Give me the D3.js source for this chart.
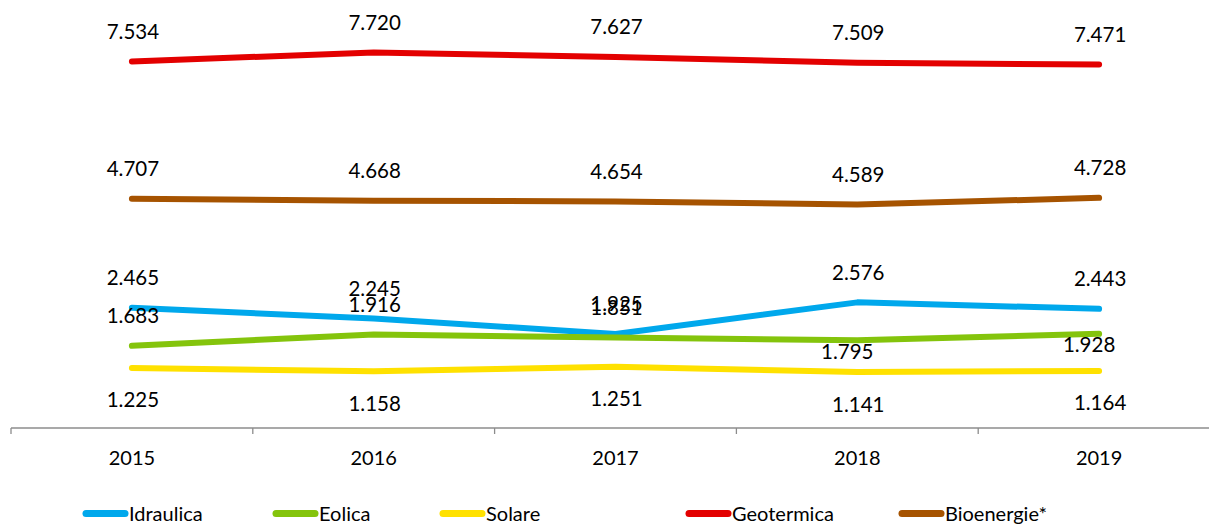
<!DOCTYPE html>
<html>
<head>
<meta charset="utf-8">
<script src="https://cdn.jsdelivr.net/npm/d3@7/dist/d3.min.js"></script>
<style>
  html, body { margin: 0; padding: 0; background: #fff; }
  svg { display: block; font-family: Lato, "Open Sans", sans-serif; }
</style>
</head>
<body>
<svg id="chart" width="1209" height="525"></svg>
<script>
// ---- data ----
const years = ["2015", "2016", "2017", "2018", "2019"];
const seriesNames = ["Idraulica", "Eolica", "Solare", "Geotermica", "Bioenergie*"];
const idraulica  = [2.465, 2.245, 1.925, 2.576, 2.443];
const eolica     = [1.683, 1.916, 1.851, 1.795, 1.928];
const solare     = [1.225, 1.158, 1.251, 1.141, 1.164];
const geotermica = [7.534, 7.720, 7.627, 7.509, 7.471];
const bioenergie = [4.707, 4.668, 4.654, 4.589, 4.728];

// ---- styles / placement (not data) ----
const colors = ["#00A8EC", "#84C40C", "#FFE100", "#E30000", "#A65300"];
// label placement per series/point: "a" above, "b" below, "n" near (below-left)
const placement = [
  ["a","a","a","a","a"],
  ["a","a","a","n","n"],
  ["b","b","b","b","b"],
  ["a","a","a","a","a"],
  ["a","a","a","a","a"]
];
const legendX = [83, 273, 440, 686, 899];

const values = [idraulica, eolica, solare, geotermica, bioenergie];
const series = seriesNames.map((name, i) => ({
  name, color: colors[i],
  points: years.map((y, j) => ({ year: y, value: values[i][j], place: placement[i][j] }))
}));

const svg = d3.select("#chart");

const x = d3.scaleBand().domain(years).range([11, 1220]).padding(0);
const y = d3.scaleLinear().domain([0, 8.8]).range([427.5, 0]);
const cx = d => x(d) + x.bandwidth() / 2;

// axis
const axisY = 428;
const axisG = svg.append("g").attr("transform", `translate(0,${axisY})`);
axisG.append("line")
  .attr("x1", 11).attr("x2", 1220).attr("y1", 0).attr("y2", 0)
  .attr("stroke", "#8c8c8c").attr("stroke-width", 1.3);
const tickPos = years.map(yr => x(yr)).concat([x(years[years.length - 1]) + x.bandwidth()]);
axisG.selectAll("line.tick").data(tickPos).join("line")
  .attr("class", "tick")
  .attr("x1", d => d).attr("x2", d => d).attr("y1", 0).attr("y2", 6)
  .attr("stroke", "#8c8c8c").attr("stroke-width", 1.3);
axisG.selectAll("text.yr").data(years).join("text")
  .attr("class", "yr")
  .attr("x", d => cx(d)).attr("y", 37)
  .attr("text-anchor", "middle")
  .attr("font-size", 20).attr("fill", "#000")
  .text(d => d);

// lines
const line = d3.line().x(d => cx(d.year)).y(d => y(d.value));
svg.append("g").selectAll("path").data(series).join("path")
  .attr("d", s => line(s.points))
  .attr("fill", "none")
  .attr("stroke", s => s.color)
  .attr("stroke-width", 6)
  .attr("stroke-linecap", "round")
  .attr("stroke-linejoin", "round");

// labels
const fmt = v => v.toFixed(3);
const lg = svg.append("g");
series.forEach(s => {
  lg.selectAll(null).data(s.points).join("text")
    .attr("x", d => cx(d.year) + (d.place === "n" ? -10 : 1))
    .attr("y", d => y(d.value) + (d.place === "a" ? -22.5 : d.place === "b" ? 39.5 : 18.5))
    .attr("text-anchor", "middle")
    .attr("font-size", 20.5).attr("fill", "#000")
    .text(d => fmt(d.value));
});

// legend
const leg = svg.append("g");
series.forEach((s, i) => {
  const lx = legendX[i];
  leg.append("line")
    .attr("x1", lx + 3).attr("x2", lx + 42).attr("y1", 513.5).attr("y2", 513.5)
    .attr("stroke", s.color).attr("stroke-width", 7).attr("stroke-linecap", "round");
  leg.append("text")
    .attr("x", lx + 46).attr("y", 521)
    .attr("font-size", 20).attr("fill", "#000")
    .text(s.name);
});
</script>
</body>
</html>
